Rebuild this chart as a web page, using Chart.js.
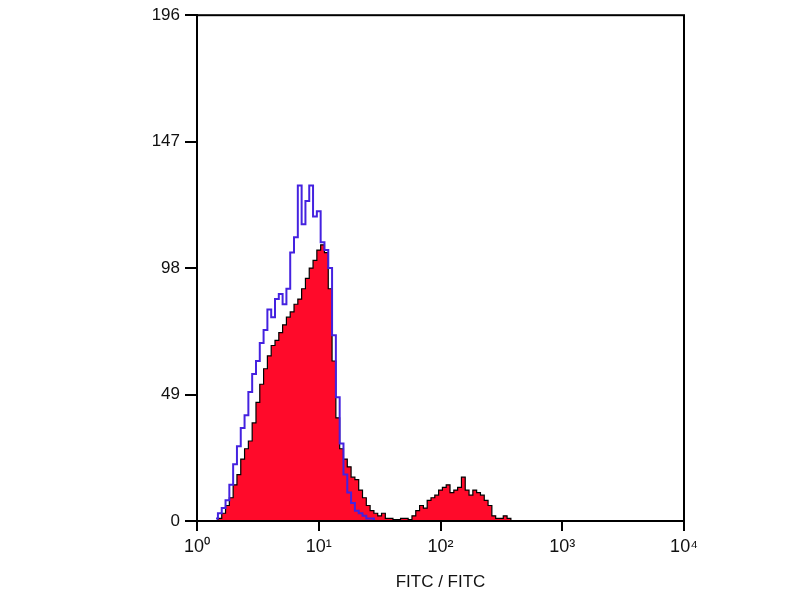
<html>
    <head>
        <script src="https://cdn.jsdelivr.net/npm/chart.js"></script>
    </head>
    <body style="margin: 0">
        <div style="width: 800px; height: 600px">
            <canvas id="histChart"></canvas>
        </div>

        <script>
            // channels: 128 bins over 4 decades (32 bins per decade)
            const START_BIN = 5
            const DECADE_LABELS = ['10⁰', '10¹', '10²', '10³', '10⁴']
            const Y_TICKS = [0, 49, 98, 147, 196]

            // stained sample (red filled), bins 5..83
            const sampleCounts = [
                0, 1, 3, 6, 9, 14, 18, 24, 28, 31,
                38, 46, 53, 59, 64, 68, 70, 73, 76, 79,
                81, 84, 86, 90, 94, 98, 101, 105, 107, 104,
                90, 62, 40, 28, 24, 21, 17, 16, 12, 9,
                6, 4, 3, 2, 3, 1, 1, 0.5, 0.5, 1,
                1, 0.5, 2, 4, 6, 5, 8, 9, 10, 12,
                13, 14, 11, 12, 13, 17, 12, 10, 12, 11,
                10, 8, 6, 2, 1, 1, 2, 1, 0,
            ]

            // isotype control (blue outline), bins 5..47
            const controlCounts = [
                1, 3, 5, 8, 14, 22, 29, 36, 41, 50,
                57, 62, 69, 74, 82, 79, 86, 88, 84, 90,
                104, 110, 130, 115, 124, 130, 118, 120, 108, 105,
                98, 72, 48, 30, 18, 11, 7, 4, 3, 2,
                1, 1, 0,
            ]

            const toPoints = (counts) => counts.map((y, i) => ({ x: START_BIN + i, y }))

            const frame = {
                id: 'frame',
                afterDatasetsDraw(chart) {
                    const { ctx, chartArea: a } = chart
                    ctx.save()
                    ctx.strokeStyle = '#000'
                    ctx.lineWidth = 2
                    ctx.strokeRect(a.left, a.top, a.right - a.left, a.bottom - a.top)
                    ctx.restore()
                },
            }

            Chart.defaults.font.family = '"Liberation Sans", Arial, sans-serif'
            Chart.defaults.color = '#111'

            new Chart(document.getElementById('histChart'), {
                type: 'line',
                data: {
                    datasets: [
                        {
                            label: 'Control',
                            data: toPoints(controlCounts),
                            borderColor: '#4422e0',
                            borderWidth: 2,
                            stepped: 'middle',
                            pointRadius: 0,
                            fill: false,
                            order: 0,
                        },
                        {
                            label: 'FITC',
                            data: toPoints(sampleCounts),
                            borderColor: '#000',
                            backgroundColor: '#ff0a2a',
                            borderWidth: 1.2,
                            stepped: 'middle',
                            pointRadius: 0,
                            fill: 'origin',
                            order: 1,
                        },
                    ],
                },
                options: {
                    responsive: true,
                    maintainAspectRatio: false,
                    animation: false,
                    layout: { padding: { top: 15, right: 116, left: 0, bottom: 0 } },
                    plugins: { legend: false, tooltip: { enabled: false } },
                    scales: {
                        x: {
                            type: 'linear',
                            min: 0,
                            max: 128,
                            afterFit: (s) => { s.height = 79 },
                            afterBuildTicks: (s) => { s.ticks = [0, 32, 64, 96, 128].map((v) => ({ value: v })) },
                            ticks: {
                                callback: (v) => DECADE_LABELS[v / 32],
                                font: { size: 18 },
                                padding: 5,
                                maxRotation: 0,
                            },
                            grid: { drawOnChartArea: false, tickLength: 10, color: '#000', lineWidth: 2 },
                            border: { color: '#000', width: 2 },
                            title: {
                                display: true,
                                text: 'FITC / FITC',
                                font: { size: 17 },
                                padding: { top: 0, bottom: 7 },
                            },
                        },
                        y: {
                            min: 0,
                            max: 196,
                            afterFit: (s) => { s.width = 197 },
                            afterBuildTicks: (s) => { s.ticks = Y_TICKS.map((v) => ({ value: v })) },
                            ticks: { font: { size: 17 }, padding: 5 },
                            grid: { drawOnChartArea: false, tickLength: 12, color: '#000', lineWidth: 2 },
                            border: { color: '#000', width: 2 },
                        },
                    },
                },
                plugins: [frame],
            })
        </script>
    </body>
</html>
